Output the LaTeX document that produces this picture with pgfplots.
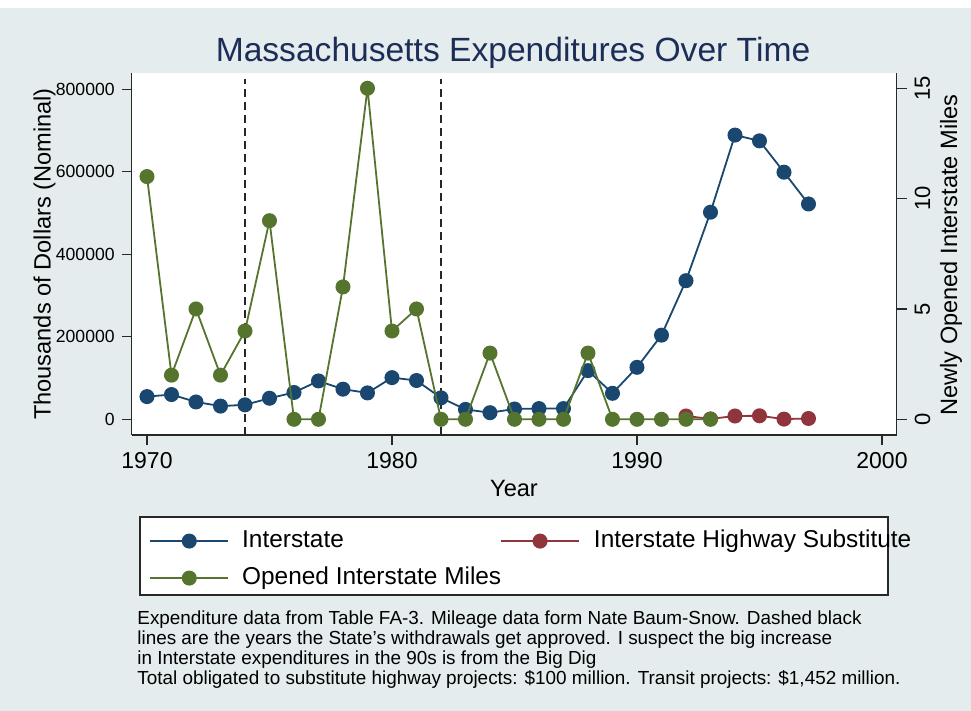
\documentclass[border=0pt]{standalone}
\usepackage{fontspec}
\setmainfont{Liberation Sans}
\usepackage{pgfplots}
\pgfplotsset{compat=1.18}

\definecolor{stnavy}{RGB}{26,71,111}
\definecolor{stmaroon}{RGB}{144,53,59}
\definecolor{stgreen}{RGB}{85,117,47}
\definecolor{bgcol}{RGB}{228,236,238}
\definecolor{titlecol}{RGB}{28,45,88}
\definecolor{axcol}{RGB}{40,40,40}

% 1 px of the reference = 0.5pt; plot box lower left at (0,0)
\pgfplotsset{
  stbase/.style={
    scale only axis, width=382.5pt, height=181pt,
    xmin=1969.376, xmax=2000.6,
    axis line style={axcol, line width=0.6pt},
    x axis line style={-}, y axis line style={-},
    tick style={axcol, line width=0.6pt},
    tick align=outside, major tick length=5pt,
    /pgf/number format/fixed,
    /pgf/number format/precision=0,
    /pgf/number format/assume math mode=true,
    /pgf/number format/1000 sep={},
    clip=false,
  },
  stline/.style={#1, line width=0.9pt, mark=*, mark size=3.3pt,
    mark options={solid, fill=#1, draw=#1}},
}

\begin{document}
\begin{tikzpicture}
\fill[bgcol] (-65.85pt,-138pt) rectangle (419.65pt,217.5pt);
\fill[white] (-65.85pt,213.5pt) rectangle (419.65pt,217.5pt);
\fill[white] (0pt,0pt) rectangle (382.5pt,181pt);
% legend frame
\filldraw[fill=white, draw=axcol, line width=0.6pt] (4.15pt,-41pt) rectangle (378.15pt,-80pt);

\begin{axis}[stbase,
  ymin=-38060, ymax=839500,
  axis x line*=bottom, axis y line*=left,
  xtick={1970,1980,1990,2000},
  ytick={0,200000,400000,600000,800000},
  scaled y ticks=false,
  xticklabel style={font=\fontsize{11.5}{12}\selectfont},
  yticklabel style={font=\fontsize{8.8}{10}\selectfont},
  legend columns=2,
  legend cell align=left,
  legend style={at={(axis description cs:0.0226,-0.2588)}, anchor=north west,
    draw=none, fill=none, inner sep=0pt, row sep=6.5pt,
    font=\fontsize{12.2}{14}\selectfont,
    nodes={inner sep=0pt, text height=9pt, text depth=3pt},
    /tikz/every odd column/.append style={column sep=6.5pt},
    /tikz/every even column/.append style={column sep=0pt}},
  legend image code/.code={
    \draw[mark repeat=2, mark phase=2, #1]
      plot coordinates {(0pt,0pt) (19.5pt,0pt) (39pt,0pt)};},
]
\addplot[black!85, line width=0.75pt, dash pattern=on 4pt off 2.5pt, forget plot]
  coordinates {(1974,-38060) (1974,825000)};
\addplot[black!85, line width=0.75pt, dash pattern=on 4pt off 2.5pt, forget plot]
  coordinates {(1982,-38060) (1982,825000)};

\addplot[stline=stnavy] coordinates {
  (1970,55000) (1971,60000) (1972,42000) (1973,32000) (1974,35000)
  (1975,51000) (1976,65000) (1977,93000) (1978,73000) (1979,64000)
  (1980,101000) (1981,94000) (1982,52000) (1983,24000) (1984,16000)
  (1985,25000) (1986,26000) (1987,26000) (1988,118000) (1989,63000)
  (1990,126000) (1991,204000) (1992,336000) (1993,502000) (1994,689000)
  (1995,675000) (1996,599000) (1997,522000)};
\addlegendentry{\makebox[129pt][l]{Interstate}}

\addplot[stline=stmaroon] coordinates {
  (1992,8000) (1993,1000) (1994,8000) (1995,8500) (1996,500) (1997,2000)};
\addlegendentry{\makebox[0pt][l]{Interstate Highway Substitute}}

\addlegendimage{stline=stgreen}
\addlegendentry{\makebox[129pt][l]{Opened Interstate Miles}}
\end{axis}

\begin{axis}[stbase,
  ymin=-0.7115, ymax=15.693,
  axis x line=none, axis y line*=right,
  ytick={0,5,10,15},
  yticklabel shift=0.5pt,
  yticklabel style={rotate=90, anchor=north, font=\fontsize{11}{12}\selectfont},
]
\addplot[stline=stgreen] coordinates {
  (1970,11) (1971,2) (1972,5) (1973,2) (1974,4) (1975,9) (1976,0)
  (1977,0) (1978,6) (1979,15) (1980,4) (1981,5) (1982,0) (1983,0)
  (1984,3) (1985,0) (1986,0) (1987,0) (1988,3) (1989,0) (1990,0)
  (1991,0) (1992,0) (1993,0)};
\end{axis}

\node[font=\fontsize{16.8}{18}\selectfont, text=titlecol, anchor=base]
  at (190.65pt,186.5pt) {Massachusetts Expenditures Over Time};
\node[font=\fontsize{11.8}{13}\selectfont, rotate=90, anchor=base]
  at (-40.5pt,90.5pt) {Thousands of Dollars (Nominal)};
\node[font=\fontsize{11.8}{13}\selectfont, rotate=90, anchor=base]
  at (412.65pt,90pt) {Newly Opened Interstate Miles};
\node[font=\fontsize{11.8}{13}\selectfont, anchor=base]
  at (191.15pt,-30.75pt) {Year};

\begin{scope}[every node/.style={font=\fontsize{9.45}{10}\selectfont, anchor=base west, inner sep=0pt}]
\node at (2.65pt,-95pt) {Expenditure data from Table FA-3. Mileage data form Nate Baum-Snow. Dashed black};
\node at (2.65pt,-105pt) {lines are the years the State's withdrawals get approved. I suspect the big increase};
\node at (2.65pt,-115pt) {in Interstate expenditures in the 90s is from the Big Dig};
\node at (2.65pt,-125pt) {Total obligated to substitute highway projects: \$100 million. Transit projects: \$1,452 million.};
\end{scope}
\end{tikzpicture}
\end{document}
